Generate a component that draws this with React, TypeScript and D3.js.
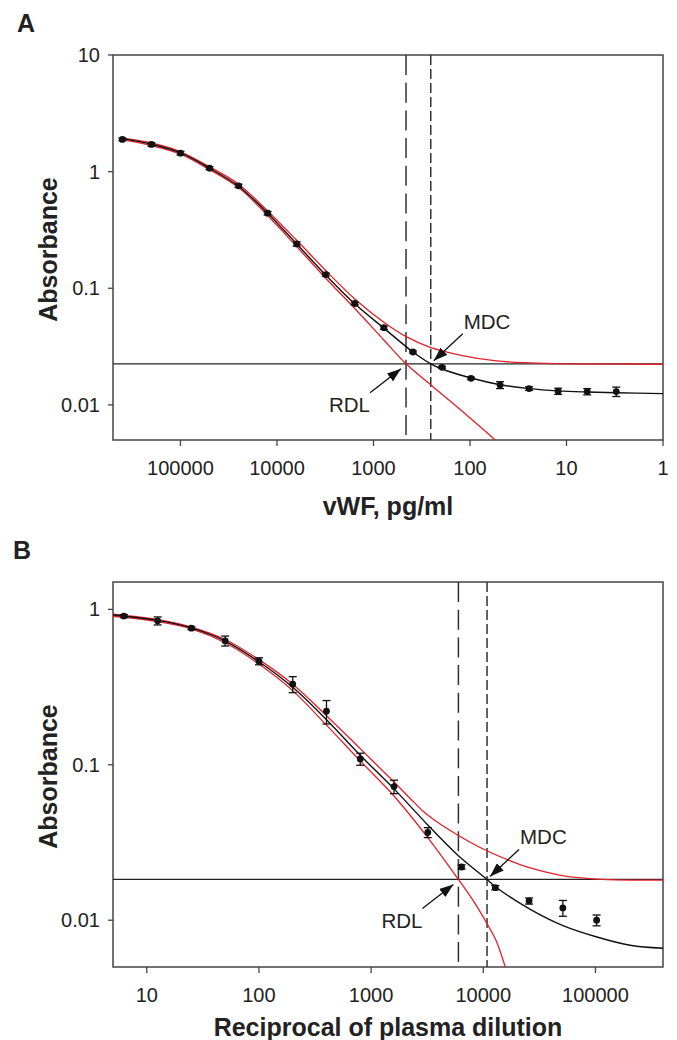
import React from "react";
import * as d3 from "d3";

// ---------- Panel A data (vWF, pg/ml) ----------
const concA = [400000, 200000, 100000, 50000, 25000, 12500, 6250, 3125, 1562, 781, 390, 195, 97.7, 48.8, 24.4, 12.2, 6.1, 3.05];
const absA = [1.89, 1.71, 1.44, 1.07, 0.755, 0.44, 0.24, 0.131, 0.074, 0.0459, 0.0284, 0.021, 0.0169, 0.0148, 0.0138, 0.0131, 0.013, 0.013];
const errA = [0.05, 0.06, 0.05, 0.03, 0.025, 0.015, 0.01, 0.004, 0.002, 0.0015, 0.0006, 0.0004, 0.0004, 0.001, 0.0005, 0.0008, 0.0008, 0.0012];

const fitXA = [420000, 400000, 200000, 100000, 50000, 25000, 12500, 6250, 3125, 1562, 781, 390, 255, 195, 97.7, 48.8, 24.4, 12.2, 6.1, 3.05, 1];
const fitYA = [1.93, 1.92, 1.72, 1.45, 1.07, 0.75, 0.44, 0.24, 0.13, 0.0735, 0.0455, 0.0284, 0.0225, 0.0203, 0.017, 0.0149, 0.0138, 0.0132, 0.0129, 0.0127, 0.0125];
const upXA = [420000, 400000, 200000, 100000, 50000, 25000, 12500, 6250, 3125, 1562, 781, 453, 254, 120, 53, 24, 10, 1];
const upYA = [1.95, 1.94, 1.76, 1.48, 1.1, 0.78, 0.46, 0.258, 0.142, 0.081, 0.0512, 0.0383, 0.031, 0.0265, 0.0238, 0.0229, 0.0225, 0.0223];
const loXA = [420000, 400000, 200000, 100000, 50000, 25000, 12500, 6250, 3125, 1562, 781, 460, 254, 120, 55, 45];
const loYA = [1.9, 1.88, 1.67, 1.41, 1.04, 0.73, 0.42, 0.228, 0.122, 0.067, 0.036, 0.0225, 0.0148, 0.0088, 0.005, 0.0042];

const hLineA = 0.0225;
const rdlA = 460;
const mdcA = 255;
const xTicksA = [100000, 10000, 1000, 100, 10, 1];
const yTicksA = [10, 1, 0.1, 0.01];

// ---------- Panel B data (reciprocal of plasma dilution) ----------
const dilB = [6.25, 12.5, 25, 50, 100, 200, 400, 800, 1600, 3200, 6400, 12800, 25600, 51200, 102400];
const absB = [0.905, 0.844, 0.757, 0.627, 0.464, 0.33, 0.221, 0.109, 0.0724, 0.0367, 0.022, 0.0162, 0.0133, 0.012, 0.01];
const errB = [0.02, 0.05, 0.017, 0.046, 0.024, 0.039, 0.038, 0.0097, 0.0072, 0.0027, 0.0007, 0.0005, 0.0006, 0.0014, 0.0008];

const fitXB = [5, 6.25, 12.5, 25, 50, 100, 200, 400, 800, 1600, 3200, 6000, 10800, 13000, 26000, 52000, 103000, 204000, 400000];
const fitYB = [0.92, 0.905, 0.85, 0.76, 0.625, 0.46, 0.315, 0.195, 0.115, 0.07, 0.041, 0.026, 0.0183, 0.0163, 0.0118, 0.0092, 0.0078, 0.0069, 0.0066];
const upXB = [5, 6.25, 12.5, 25, 50, 100, 200, 400, 800, 1600, 2244, 2946, 3881, 5846, 10090, 17420, 26240, 52000, 103000, 400000];
const upYB = [0.93, 0.915, 0.86, 0.77, 0.64, 0.475, 0.33, 0.207, 0.127, 0.0775, 0.0605, 0.0498, 0.0428, 0.0355, 0.0286, 0.0241, 0.0217, 0.0193, 0.0184, 0.0181];
const loXB = [5, 6.25, 12.5, 25, 50, 100, 200, 400, 800, 1600, 3200, 6000, 8000, 10800, 13000, 15700, 18000];
const loYB = [0.9, 0.89, 0.835, 0.75, 0.61, 0.445, 0.3, 0.18, 0.106, 0.063, 0.034, 0.0183, 0.0136, 0.0095, 0.0074, 0.005, 0.0036];

const hLineB = 0.0183;
const rdlB = 6000;
const mdcB = 10800;
const xTicksB = [10, 100, 1000, 10000, 100000];
const yTicksB = [1, 0.1, 0.01];

const RED = "#e3202a";
const INK = "#222";
const FONT = "'Liberation Sans', Arial, Helvetica, sans-serif";

type PanelProps = {
  id: string;
  letter: string;
  letterY: number;
  letterX: number;
  box: { left: number; top: number; right: number; bottom: number };
  xDomain: [number, number];
  yDomain: [number, number];
  xTicks: number[];
  yTicks: number[];
  xTitle: string;
  xTitleY: number;
  px: number[];
  py: number[];
  pe: number[];
  fit: [number[], number[]];
  up: [number[], number[]];
  lo: [number[], number[]];
  hLine: number;
  rdl: number;
  mdc: number;
};

function Panel(p: PanelProps) {
  const { box } = p;
  const x = d3.scaleLog().domain(p.xDomain).range([box.left, box.right]);
  const y = d3.scaleLog().domain(p.yDomain).range([box.bottom, box.top]);

  const mkPath = (xs: number[], ys: number[]) => {
    const pts = xs.map((v, i) => [x(v), y(ys[i])] as [number, number]).sort((a, b) => a[0] - b[0]);
    return d3.line().curve(d3.curveCatmullRom.alpha(0.5))(pts) || "";
  };

  const clipId = `clip-${p.id}`;
  const markId = `arrow-${p.id}`;
  const yH = y(p.hLine);
  const xR = x(p.rdl);
  const xM = x(p.mdc);

  return (
    <g>
      <defs>
        <clipPath id={clipId}>
          <rect x={box.left} y={box.top} width={box.right - box.left} height={box.bottom - box.top} />
        </clipPath>
        <marker id={markId} viewBox="0 0 14 10" refX="14" refY="5" markerWidth="14" markerHeight="10" markerUnits="userSpaceOnUse" orient="auto">
          <path d="M0,0 L14,5 L0,10 Z" fill="#111" />
        </marker>
      </defs>

      <text x={p.letterX} y={p.letterY} fontFamily={FONT} fontWeight="bold" fontSize={25} fill={INK}>{p.letter}</text>

      {/* frame */}
      <rect x={box.left} y={box.top} width={box.right - box.left} height={box.bottom - box.top} fill="none" stroke="#444" strokeWidth={1.5} />

      {/* y ticks */}
      {p.yTicks.map((t) => (
        <g key={`y${t}`}>
          <line x1={box.left - 5} x2={box.left} y1={y(t)} y2={y(t)} stroke="#444" strokeWidth={1.3} />
          <text x={box.left - 13} y={y(t) + 7} textAnchor="end" fontFamily={FONT} fontSize={20} fill={INK}>{String(t)}</text>
        </g>
      ))}
      {/* x ticks */}
      {p.xTicks.map((t) => (
        <g key={`x${t}`}>
          <line x1={x(t)} x2={x(t)} y1={box.bottom} y2={box.bottom + 6} stroke="#444" strokeWidth={1.3} />
          <text x={x(t)} y={box.bottom + 35} textAnchor="middle" fontFamily={FONT} fontSize={20} fill={INK}>{String(t)}</text>
        </g>
      ))}

      {/* axis titles */}
      <text transform={`translate(${57},${(box.top + box.bottom) / 2 + 2}) rotate(-90)`} textAnchor="middle" fontFamily={FONT} fontWeight="bold" fontSize={25} fill={INK}>Absorbance</text>
      <text x={(box.left + box.right) / 2} y={p.xTitleY} textAnchor="middle" fontFamily={FONT} fontWeight="bold" fontSize={25} fill={INK}>{p.xTitle}</text>

      <g clipPath={`url(#${clipId})`}>
        {/* reference lines */}
        <line x1={box.left} x2={box.right} y1={yH} y2={yH} stroke="#222" strokeWidth={1.3} />
        <line x1={xR} x2={xR} y1={box.top} y2={box.bottom} stroke="#333" strokeWidth={1.5} strokeDasharray="20 7.7" />
        <line x1={xM} x2={xM} y1={box.top} y2={box.bottom} stroke="#333" strokeWidth={1.5} strokeDasharray="10 4" />

        {/* curves */}
        <path d={mkPath(p.up[0], p.up[1])} fill="none" stroke={RED} strokeWidth={1.3} />
        <path d={mkPath(p.lo[0], p.lo[1])} fill="none" stroke={RED} strokeWidth={1.3} />
        <path d={mkPath(p.fit[0], p.fit[1])} fill="none" stroke="#111" strokeWidth={1.4} />

        {/* data points with error bars */}
        {p.px.map((v, i) => {
          const cx = x(v);
          const cy = y(p.py[i]);
          const y1 = y(p.py[i] + p.pe[i]);
          const y2 = y(p.py[i] - p.pe[i]);
          return (
            <g key={`p${i}`}>
              <line x1={cx} x2={cx} y1={y1} y2={y2} stroke="#111" strokeWidth={1.3} />
              <line x1={cx - 4} x2={cx + 4} y1={y1} y2={y1} stroke="#111" strokeWidth={1.3} />
              <line x1={cx - 4} x2={cx + 4} y1={y2} y2={y2} stroke="#111" strokeWidth={1.3} />
              <circle cx={cx} cy={cy} r={3.4} fill="#111" />
            </g>
          );
        })}
      </g>

      {/* annotations */}
      <line x1={xM + 32} y1={yH - 30} x2={xM + 3} y2={yH - 3} stroke="#111" strokeWidth={1.3} markerEnd={`url(#${markId})`} />
      <text x={xM + 33} y={yH - 35} fontFamily={FONT} fontSize={20.5} fill={INK}>MDC</text>
      <line x1={xR - 36} y1={yH + 29} x2={xR - 5} y2={yH + 5} stroke="#111" strokeWidth={1.3} markerEnd={`url(#${markId})`} />
      <text x={xR - 36} y={yH + 48.5} textAnchor="end" fontFamily={FONT} fontSize={20.5} fill={INK}>RDL</text>
    </g>
  );
}

export default function App() {
  return (
    <svg width={677} height={1040} style={{ position: "absolute", left: 0, top: 0, background: "#fff" }}>
      <rect x={0} y={0} width={677} height={1040} fill="#fff" />
      <Panel
        id="a"
        letter="A"
        letterX={17}
        letterY={32}
        box={{ left: 113, top: 55, right: 663, bottom: 440 }}
        xDomain={[500000, 1]}
        yDomain={[0.005, 10]}
        xTicks={xTicksA}
        yTicks={yTicksA}
        xTitle="vWF, pg/ml"
        xTitleY={515}
        px={concA}
        py={absA}
        pe={errA}
        fit={[fitXA, fitYA]}
        up={[upXA, upYA]}
        lo={[loXA, loYA]}
        hLine={hLineA}
        rdl={rdlA}
        mdc={mdcA}
      />
      <Panel
        id="b"
        letter="B"
        letterX={13}
        letterY={559}
        box={{ left: 113, top: 582, right: 663, bottom: 967 }}
        xDomain={[5, 400000]}
        yDomain={[0.005, 1.5]}
        xTicks={xTicksB}
        yTicks={yTicksB}
        xTitle="Reciprocal of plasma dilution"
        xTitleY={1036}
        px={dilB}
        py={absB}
        pe={errB}
        fit={[fitXB, fitYB]}
        up={[upXB, upYB]}
        lo={[loXB, loYB]}
        hLine={hLineB}
        rdl={rdlB}
        mdc={mdcB}
      />
    </svg>
  );
}
